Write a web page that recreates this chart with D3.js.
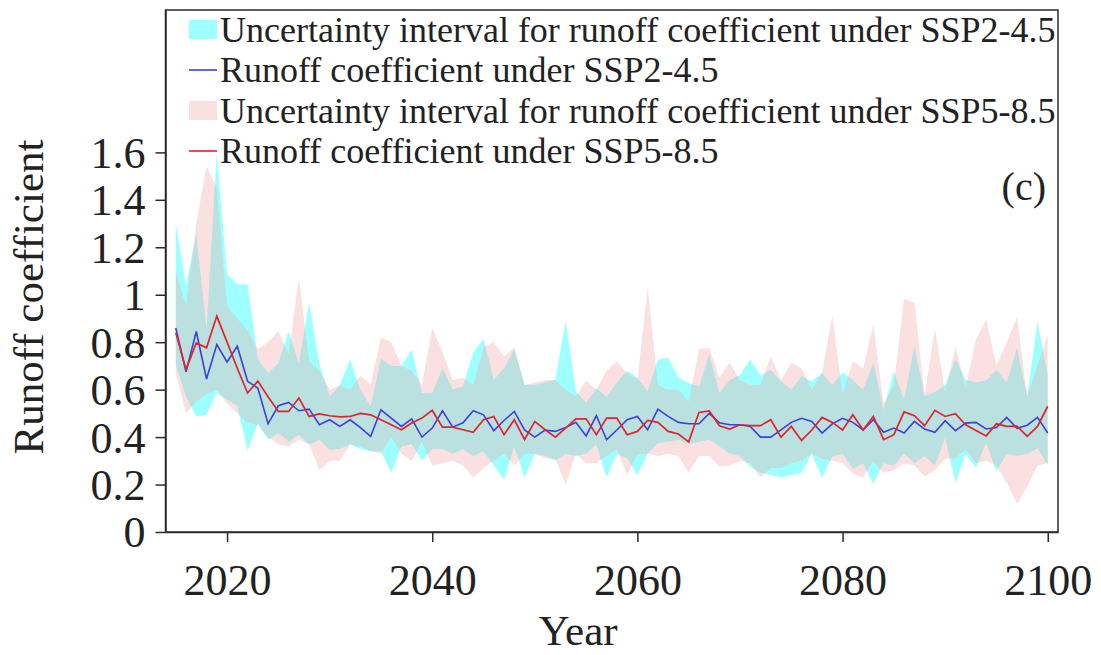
<!DOCTYPE html>
<html>
<head>
<meta charset="utf-8">
<script src="https://cdn.jsdelivr.net/npm/d3@7/dist/d3.min.js"></script>
<style>
  body { margin: 0; background: #fff; }
  text { font-family: "Liberation Serif", "Times New Roman", serif; fill: #222; }
</style>
</head>
<body>
<div id="chart"></div>
<script>
// years 2015..2100
var years = d3.range(2015, 2101);

var ssp245Mean = [
  0.86, 0.675, 0.845, 0.645, 0.79, 0.717, 0.783, 0.635, 0.607, 0.456,
  0.532, 0.546, 0.511, 0.518, 0.452, 0.473, 0.445, 0.473, 0.44, 0.403,
  0.515, 0.48, 0.445, 0.477, 0.40, 0.438, 0.511, 0.442, 0.46, 0.511,
  0.494, 0.427, 0.47, 0.508, 0.43, 0.40, 0.43, 0.424, 0.44, 0.462,
  0.405, 0.49, 0.389, 0.43, 0.473, 0.487, 0.431, 0.518, 0.487, 0.462,
  0.456, 0.456, 0.50, 0.46, 0.452, 0.452, 0.445, 0.40, 0.40, 0.43,
  0.462, 0.479, 0.466, 0.417, 0.456, 0.479, 0.462, 0.43, 0.473, 0.42,
  0.438, 0.417, 0.466, 0.434, 0.42, 0.469, 0.427, 0.459, 0.462, 0.434,
  0.44, 0.483, 0.437, 0.45, 0.483, 0.417
];

var ssp585Mean = [
  0.84, 0.685, 0.797, 0.776, 0.91, 0.80, 0.69, 0.586, 0.636, 0.57,
  0.508, 0.508, 0.565, 0.487, 0.498, 0.49, 0.485, 0.487, 0.50, 0.494,
  0.473, 0.452, 0.431, 0.459, 0.48, 0.513, 0.442, 0.442, 0.431, 0.42,
  0.473, 0.487, 0.41, 0.473, 0.39, 0.466, 0.431, 0.40, 0.438, 0.477,
  0.477, 0.41, 0.48, 0.48, 0.41, 0.424, 0.47, 0.462, 0.424, 0.413,
  0.38, 0.504, 0.51, 0.448, 0.434, 0.452, 0.448, 0.448, 0.473, 0.40,
  0.445, 0.386, 0.43, 0.483, 0.462, 0.43, 0.494, 0.43, 0.487, 0.389,
  0.41, 0.506, 0.49, 0.448, 0.513, 0.487, 0.499, 0.452, 0.428, 0.405,
  0.456, 0.445, 0.446, 0.403, 0.445, 0.53
];

var ssp245Upper = [
  1.30, 1.04, 1.255, 0.855, 1.60, 1.086, 1.044, 1.044, 0.73, 0.67,
  0.71, 0.846, 0.71, 0.966, 0.71, 0.57, 0.62, 0.727, 0.60, 0.53,
  0.73, 0.70, 0.70, 0.769, 0.586, 0.586, 0.69, 0.60, 0.614, 0.755,
  0.814, 0.642, 0.69, 0.77, 0.62, 0.62, 0.63, 0.642, 0.89, 0.593,
  0.544, 0.607, 0.57, 0.63, 0.68, 0.65, 0.593, 0.727, 0.734, 0.65,
  0.628, 0.614, 0.748, 0.586, 0.64, 0.663, 0.727, 0.66, 0.684, 0.635,
  0.60, 0.656, 0.635, 0.67, 0.62, 0.673, 0.64, 0.60, 0.713, 0.515,
  0.677, 0.558, 0.783, 0.572, 0.59, 0.62, 0.727, 0.642, 0.63, 0.64,
  0.684, 0.63, 0.776, 0.572, 0.889, 0.663
];

var ssp245Lower = [
  0.706, 0.57, 0.487, 0.494, 0.586, 0.558, 0.53, 0.34, 0.459, 0.389,
  0.417, 0.38, 0.41, 0.368, 0.389, 0.346, 0.35, 0.37, 0.35, 0.34,
  0.34, 0.25, 0.36, 0.37, 0.30, 0.35, 0.35, 0.33, 0.35, 0.32,
  0.34, 0.28, 0.22, 0.36, 0.23, 0.33, 0.32, 0.30, 0.33, 0.32,
  0.33, 0.37, 0.23, 0.33, 0.31, 0.24, 0.33, 0.375, 0.38, 0.39,
  0.37, 0.38, 0.39, 0.36, 0.33, 0.32, 0.276, 0.25, 0.24, 0.23,
  0.24, 0.25, 0.33, 0.227, 0.318, 0.33, 0.265, 0.29, 0.203, 0.29,
  0.28, 0.33, 0.29, 0.32, 0.28, 0.396, 0.206, 0.33, 0.27, 0.377,
  0.255, 0.33, 0.32, 0.33, 0.353, 0.283
];

var ssp585Upper = [
  1.10, 0.95, 1.30, 1.54, 1.45, 0.95, 0.90, 0.85, 0.77, 0.80,
  0.846, 0.75, 1.07, 0.72, 0.68, 0.60, 0.62, 0.60, 0.66, 0.62,
  0.82, 0.80, 0.70, 0.68, 0.62, 0.86, 0.76, 0.64, 0.65, 0.62,
  0.78, 0.80, 0.74, 0.78, 0.62, 0.63, 0.64, 0.64, 0.60, 0.57,
  0.64, 0.60, 0.68, 0.72, 0.67, 0.64, 1.03, 0.62, 0.60, 0.60,
  0.55, 0.77, 0.776, 0.65, 0.713, 0.64, 0.62, 0.62, 0.74, 0.64,
  0.713, 0.69, 0.60, 0.67, 0.91, 0.58, 0.72, 0.69, 0.875, 0.54,
  0.62, 0.983, 0.966, 0.58, 0.856, 0.586, 0.783, 0.61, 0.81, 0.896,
  0.70, 0.80, 0.905, 0.57, 0.70, 0.83
];

var ssp585Lower = [
  0.67, 0.50, 0.55, 0.58, 0.60, 0.54, 0.50, 0.46, 0.45, 0.40,
  0.37, 0.36, 0.39, 0.37, 0.26, 0.30, 0.30, 0.37, 0.36, 0.34,
  0.33, 0.40, 0.33, 0.30, 0.38, 0.28, 0.29, 0.30, 0.28, 0.23,
  0.27, 0.30, 0.33, 0.28, 0.33, 0.33, 0.31, 0.31, 0.20, 0.33,
  0.29, 0.29, 0.32, 0.35, 0.24, 0.33, 0.33, 0.32, 0.33, 0.32,
  0.25, 0.32, 0.32, 0.276, 0.28, 0.30, 0.29, 0.23, 0.27, 0.27,
  0.29, 0.30, 0.33, 0.31, 0.30, 0.29, 0.248, 0.23, 0.30, 0.25,
  0.26, 0.29, 0.28, 0.234, 0.26, 0.31, 0.31, 0.35, 0.29, 0.30,
  0.28, 0.205, 0.12, 0.19, 0.28, 0.29
];

var xTicks = [2020, 2040, 2060, 2080, 2100];
var yTicks = [0, 0.2, 0.4, 0.6, 0.8, 1, 1.2, 1.4, 1.6];
var yTickLabels = ["0", "0.2", "0.4", "0.6", "0.8", "1", "1.2", "1.4", "1.6"];

var legendLabels = [
  "Uncertainty interval for runoff coefficient under SSP2-4.5",
  "Runoff coefficient under SSP2-4.5",
  "Uncertainty interval for runoff coefficient under SSP5-8.5",
  "Runoff coefficient under SSP5-8.5"
];

var width = 1101,
  height = 655;

var margin = { top: 10, right: 43, bottom: 123, left: 165.5 };

var colors = {
  cyan: "#00ffff",
  pink: "#f2a6a6",
  blue: "#3f3fd9",
  red: "#e1232b",
  axis: "#2b2b2b"
};

var svg = d3
  .select("#chart")
  .append("svg")
  .attr("width", width)
  .attr("height", height);

var x = d3
  .scaleLinear()
  .domain([2014, 2101])
  .range([margin.left, width - margin.right]);

var y = d3
  .scaleLinear()
  .domain([0, 2.2])
  .range([height - margin.bottom, margin.top]);

var rows = years.map(function(yr, i) {
  return {
    year: yr,
    m245: ssp245Mean[i],
    m585: ssp585Mean[i],
    lo245: ssp245Lower[i],
    hi245: ssp245Upper[i],
    lo585: ssp585Lower[i],
    hi585: ssp585Upper[i]
  };
});

var area245 = d3
  .area()
  .x(function(d) { return x(d.year); })
  .y0(function(d) { return y(d.lo245); })
  .y1(function(d) { return y(d.hi245); });

var area585 = d3
  .area()
  .x(function(d) { return x(d.year); })
  .y0(function(d) { return y(d.lo585); })
  .y1(function(d) { return y(d.hi585); });

var line245 = d3
  .line()
  .x(function(d) { return x(d.year); })
  .y(function(d) { return y(d.m245); });

var line585 = d3
  .line()
  .x(function(d) { return x(d.year); })
  .y(function(d) { return y(d.m585); });

svg
  .append("path")
  .datum(rows)
  .attr("d", area245)
  .style("fill", colors.cyan)
  .style("fill-opacity", 0.38);

svg
  .append("path")
  .datum(rows)
  .attr("d", area585)
  .style("fill", colors.pink)
  .style("fill-opacity", 0.35);

svg
  .append("path")
  .datum(rows)
  .attr("d", line245)
  .style("fill", "none")
  .style("stroke", colors.blue)
  .style("stroke-width", 1.6);

svg
  .append("path")
  .datum(rows)
  .attr("d", line585)
  .style("fill", "none")
  .style("stroke", colors.red)
  .style("stroke-width", 1.7);

// box around the plot
svg
  .append("rect")
  .attr("x", x.range()[0])
  .attr("y", y.range()[1])
  .attr("width", x.range()[1] - x.range()[0])
  .attr("height", y.range()[0] - y.range()[1])
  .style("fill", "none")
  .style("stroke", colors.axis)
  .style("stroke-width", 1.5);

var xAxis = svg
  .append("g")
  .attr("transform", "translate(0," + y.range()[0] + ")")
  .call(
    d3
      .axisBottom(x)
      .tickValues(xTicks)
      .tickSizeInner(10)
      .tickSizeOuter(0)
      .tickPadding(22)
      .tickFormat(d3.format("d"))
  );

var yAxis = svg
  .append("g")
  .attr("transform", "translate(" + x.range()[0] + ",0)")
  .call(
    d3
      .axisLeft(y)
      .tickValues(yTicks)
      .tickSizeInner(10)
      .tickSizeOuter(0)
      .tickPadding(10)
      .tickFormat(function(d, i) { return yTickLabels[i]; })
  );

[xAxis, yAxis].forEach(function(ax) {
  ax.select(".domain").style("stroke", colors.axis).style("stroke-width", 1.5);
  ax.selectAll(".tick line").style("stroke", colors.axis).style("stroke-width", 1.5);
  ax.selectAll(".tick text")
    .style("font-family", '"Liberation Serif", "Times New Roman", serif')
    .style("font-size", "44px")
    .style("fill", "#222");
});

yAxis.selectAll(".tick text").attr("dy", "0.34em");

svg
  .append("text")
  .attr("x", 578)
  .attr("y", 645)
  .style("text-anchor", "middle")
  .style("font-size", "43px")
  .text("Year");

svg
  .append("text")
  .attr("transform", "translate(43,297) rotate(-90)")
  .style("text-anchor", "middle")
  .style("font-size", "43px")
  .text("Runoff coefficient");

svg
  .append("text")
  .attr("x", 1046)
  .attr("y", 200)
  .style("text-anchor", "end")
  .style("font-size", "40px")
  .text("(c)");

// legend
var legend = svg.append("g").attr("transform", "translate(189,0)");
var legendBase = [42, 82, 123, 163];

legendLabels.forEach(function(label, i) {
  var row = legend.append("g");
  var base = legendBase[i];
  if (i % 2 === 0) {
    row
      .append("rect")
      .attr("x", 0)
      .attr("y", base - 22)
      .attr("width", 28)
      .attr("height", 19)
      .style("fill", i === 0 ? colors.cyan : colors.pink)
      .style("fill-opacity", i === 0 ? 0.38 : 0.35);
  } else {
    row
      .append("line")
      .attr("x1", 0)
      .attr("x2", 28)
      .attr("y1", base - 12)
      .attr("y2", base - 12)
      .style("stroke", i === 1 ? colors.blue : colors.red)
      .style("stroke-width", 1.6);
  }
  row
    .append("text")
    .attr("x", 31)
    .attr("y", base)
    .style("font-size", "36px")
    .text(label);
});
</script>
</body>
</html>
